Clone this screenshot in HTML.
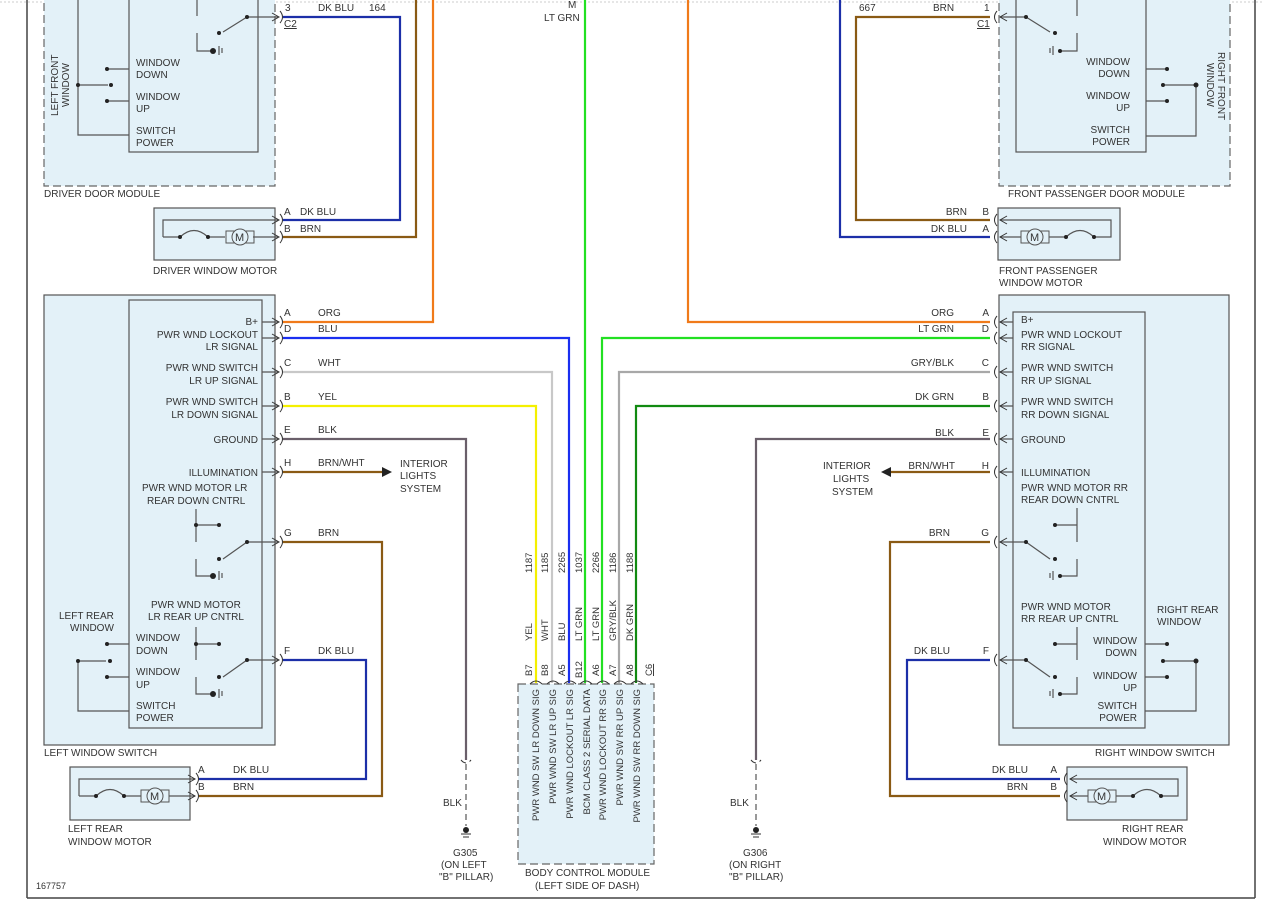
<!DOCTYPE html>
<html><head><meta charset="utf-8"><style>
html,body{margin:0;padding:0;background:#fff}
svg{display:block;font-family:"Liberation Sans",sans-serif;font-size:10px;fill:#333}
.box{fill:#e3f1f8;stroke:#555;stroke-width:1.2}
.dash{fill:#e3f1f8;stroke:#666;stroke-width:1.2;stroke-dasharray:8,4}
.in{fill:none;stroke:#555;stroke-width:1.2}
.w{fill:none;stroke-width:2.2}
.c{fill:none;stroke:#333;stroke-width:1}
</style></head><body>
<svg width="1264" height="907" viewBox="0 0 1264 907">
<rect width="1264" height="907" fill="#fff"/>
<line x1="0" y1="2" x2="1264" y2="2" stroke="#ccc" stroke-dasharray="2,2"/>
<line x1="27" y1="0" x2="27" y2="898" stroke="#444" stroke-width="1.5"/>
<line x1="1255" y1="0" x2="1255" y2="898" stroke="#444" stroke-width="1.5"/>
<line x1="27" y1="898" x2="1255" y2="898" stroke="#444" stroke-width="1.5"/>

<!-- Driver door module -->
<rect class="dash" x="44" y="-5" width="231" height="191"/>
<rect class="box" x="129" y="-5" width="129" height="157"/>
<text x="44" y="197">DRIVER DOOR MODULE</text>
<text transform="translate(58,116) rotate(-90)">LEFT FRONT</text>
<text transform="translate(69,107) rotate(-90)">WINDOW</text>
<path class="in" d="M78,0 V135 H129 M107,69 H129 M107,101 H129 M78,85 H108"/>
<circle cx="107" cy="69" r="2" fill="#222"/><circle cx="107" cy="101" r="2" fill="#222"/><circle cx="111" cy="85" r="2" fill="#222"/><circle cx="78" cy="85" r="2" fill="#222"/>
<text x="136" y="66">WINDOW</text><text x="136" y="78">DOWN</text>
<text x="136" y="100">WINDOW</text><text x="136" y="112">UP</text>
<text x="136" y="134">SWITCH</text><text x="136" y="146">POWER</text>
<path class="in" d="M197,0 V16 M247,17 H278 M247,17 L223,32 M197,33 V51 H212 M219,46 V55 M222,48 V53"/>
<circle cx="247" cy="17" r="2" fill="#222"/><circle cx="219" cy="33" r="2" fill="#222"/><circle cx="213" cy="51" r="3" fill="#222"/>
<text x="285" y="11">3</text><text x="284" y="27" text-decoration="underline">C2</text>
<text x="318" y="11">DK BLU</text><text x="369" y="11">164</text>

<!-- Driver motor -->
<rect class="box" x="154" y="208" width="121" height="52"/>
<path class="in" d="M163,237 V220 H278 M163,237 H180 M208,237 H225 M253,237 H278"/>
<path class="in" d="M180,237 Q194,224 208,237"/>
<circle cx="180" cy="237" r="2" fill="#222"/><circle cx="208" cy="237" r="2" fill="#222"/>
<rect x="226" y="231" width="28" height="12" fill="none" stroke="#555"/>
<circle cx="240" cy="237" r="8" fill="#e3f1f8" stroke="#555"/><text x="235" y="241" font-size="11">M</text>
<text x="153" y="274">DRIVER WINDOW MOTOR</text>
<text x="284" y="215">A</text><text x="300" y="215">DK BLU</text>
<text x="284" y="232">B</text><text x="300" y="232">BRN</text>

<!-- top wires left -->
<path class="w" stroke="#1c2fa8" d="M283,17 H400 V220 H283"/>
<path class="w" stroke="#8a5a14" d="M416,0 V237 H283"/>
<path class="w" stroke="#f07a1a" d="M433,0 V322 H283"/>
<path class="w" stroke="#22e022" d="M585,0 V683"/>
<text x="568" y="8">M</text><text x="544" y="21">LT GRN</text>

<!-- Left window switch -->
<rect class="box" x="44" y="295" width="231" height="450"/>
<rect class="box" x="129" y="300" width="133" height="428"/>
<text x="44" y="756">LEFT WINDOW SWITCH</text>
<g text-anchor="end">
<text x="258" y="325">B+</text>
<text x="258" y="338">PWR WND LOCKOUT</text><text x="258" y="350">LR SIGNAL</text>
<text x="258" y="371">PWR WND SWITCH</text><text x="258" y="384">LR UP SIGNAL</text>
<text x="258" y="405">PWR WND SWITCH</text><text x="258" y="418">LR DOWN SIGNAL</text>
<text x="258" y="443">GROUND</text>
<text x="258" y="476">ILLUMINATION</text>
</g>
<text x="142" y="491">PWR WND MOTOR LR</text><text x="147" y="504">REAR DOWN CNTRL</text>
<text x="151" y="608">PWR WND MOTOR</text><text x="148" y="620">LR REAR UP CNTRL</text>
<path class="in" d="M262,322 H278 M262,338 H278 M262,372 H278 M262,406 H278 M262,439 H278 M262,472 H278"/>
<path class="in" d="M196,509 V542 M196,525 H219 M247,542 H278 M247,542 L223,559 M196,559 V576 H212 M219,571 V580 M222,573 V578"/>
<circle cx="196" cy="525" r="2" fill="#222"/><circle cx="219" cy="525" r="2" fill="#222"/><circle cx="247" cy="542" r="2" fill="#222"/><circle cx="219" cy="559" r="2" fill="#222"/><circle cx="213" cy="576" r="3" fill="#222"/>
<path class="in" d="M196,627 V660 M196,644 H219 M247,660 H278 M247,660 L223,677 M196,677 V694 H212 M219,689 V698 M222,691 V696"/>
<circle cx="196" cy="644" r="2" fill="#222"/><circle cx="219" cy="644" r="2" fill="#222"/><circle cx="247" cy="660" r="2" fill="#222"/><circle cx="219" cy="677" r="2" fill="#222"/><circle cx="213" cy="694" r="3" fill="#222"/>
<text x="59" y="619">LEFT REAR</text><text x="70" y="631">WINDOW</text>
<path class="in" d="M107,644 H129 M107,677 H129 M78,661 V711 H129 M78,661 H106"/>
<circle cx="107" cy="644" r="2" fill="#222"/><circle cx="107" cy="677" r="2" fill="#222"/><circle cx="110" cy="661" r="2" fill="#222"/><circle cx="78" cy="661" r="2" fill="#222"/>
<text x="136" y="641">WINDOW</text><text x="136" y="654">DOWN</text>
<text x="136" y="675">WINDOW</text><text x="136" y="688">UP</text>
<text x="136" y="709">SWITCH</text><text x="136" y="721">POWER</text>

<text x="284" y="316">A</text><text x="318" y="316">ORG</text>
<text x="284" y="332">D</text><text x="318" y="332">BLU</text>
<text x="284" y="366">C</text><text x="318" y="366">WHT</text>
<text x="284" y="400">B</text><text x="318" y="400">YEL</text>
<text x="284" y="433">E</text><text x="318" y="433">BLK</text>
<text x="284" y="466">H</text><text x="318" y="466">BRN/WHT</text>
<text x="284" y="536">G</text><text x="318" y="536">BRN</text>
<text x="284" y="654">F</text><text x="318" y="654">DK BLU</text>

<path class="w" stroke="#1a2ff0" d="M283,338 H569 V683"/>
<path class="w" stroke="#c8c8c8" d="M283,372 H552 V683"/>
<path class="w" stroke="#f4f000" d="M283,406 H536 V683"/>
<path class="w" stroke="#6a5f6a" d="M283,439 H466 V760"/>
<path class="w" stroke="#8a5a14" d="M283,472 H383"/>
<path d="M382,467 L392,472 L382,477Z" fill="#222"/>
<text x="400" y="467">INTERIOR</text><text x="400" y="479">LIGHTS</text><text x="400" y="492">SYSTEM</text>
<path class="w" stroke="#8a5a14" d="M283,542 H382 V796 H199"/>
<path class="w" stroke="#1c2fa8" d="M283,660 H366 V779 H199"/>
<path fill="none" stroke="#333" d="M461,760 Q466,766 471,760 M466,764 V826" stroke-dasharray="6,4"/>
<circle cx="466" cy="830" r="3" fill="#222"/><path stroke="#333" d="M461,834 H471 M463,837 H469"/>
<text x="443" y="806">BLK</text>
<text x="453" y="856">G305</text><text x="441" y="868">(ON LEFT</text><text x="439" y="880">"B" PILLAR)</text>

<rect class="box" x="70" y="767" width="120" height="53"/>
<path class="in" d="M79,796 V779 H195 M79,796 H96 M124,796 H141 M169,796 H195"/>
<path class="in" d="M96,796 Q110,783 124,796"/>
<circle cx="96" cy="796" r="2" fill="#222"/><circle cx="124" cy="796" r="2" fill="#222"/>
<rect x="141" y="790" width="28" height="12" fill="none" stroke="#555"/>
<circle cx="155" cy="796" r="8" fill="#e3f1f8" stroke="#555"/><text x="150" y="800" font-size="11">M</text>
<text x="68" y="832">LEFT REAR</text><text x="68" y="845">WINDOW MOTOR</text>
<text x="198" y="773">A</text><text x="233" y="773">DK BLU</text>
<text x="198" y="790">B</text><text x="233" y="790">BRN</text>

<g class="c">
<path d="M272,13 L279,17 L272,21 M280,11 Q285,17 280,23"/>
<path d="M272,216 L279,220 L272,224 M280,214 Q285,220 280,226"/>
<path d="M272,233 L279,237 L272,241 M280,231 Q285,237 280,243"/>
<path d="M272,318 L279,322 L272,326 M280,316 Q285,322 280,328"/>
<path d="M272,334 L279,338 L272,342 M280,332 Q285,338 280,344"/>
<path d="M272,368 L279,372 L272,376 M280,366 Q285,372 280,378"/>
<path d="M272,402 L279,406 L272,410 M280,400 Q285,406 280,412"/>
<path d="M272,435 L279,439 L272,443 M280,433 Q285,439 280,445"/>
<path d="M272,468 L279,472 L272,476 M280,466 Q285,472 280,478"/>
<path d="M272,538 L279,542 L272,546 M280,536 Q285,542 280,548"/>
<path d="M272,656 L279,660 L272,664 M280,654 Q285,660 280,666"/>
<path d="M188,775 L195,779 L188,783 M196,773 Q201,779 196,785"/>
<path d="M188,792 L195,796 L188,800 M196,790 Q201,796 196,802"/>
</g>

<rect class="dash" x="518" y="684" width="136" height="180"/>
<path class="w" stroke="#22e022" d="M602,683 V338 H990"/>
<path class="w" stroke="#a8a8a8" d="M619,683 V372 H990"/>
<path class="w" stroke="#118a11" d="M636,683 V406 H990"/>
<g class="c">
<path d="M530,684 Q536,678 542,684 M547,684 Q553,678 559,684 M564,684 Q570,678 576,684 M580,684 Q586,678 592,684 M597,684 Q603,678 609,684 M614,684 Q620,678 626,684 M631,684 Q637,678 643,684"/>
</g>
<g font-size="9.5">
<text transform="translate(532,573) rotate(-90)">1187</text>
<text transform="translate(548,573) rotate(-90)">1185</text>
<text transform="translate(565,573) rotate(-90)">2265</text>
<text transform="translate(582,573) rotate(-90)">1037</text>
<text transform="translate(599,573) rotate(-90)">2266</text>
<text transform="translate(616,573) rotate(-90)">1186</text>
<text transform="translate(633,573) rotate(-90)">1188</text>
<text transform="translate(532,641) rotate(-90)">YEL</text>
<text transform="translate(548,641) rotate(-90)">WHT</text>
<text transform="translate(565,641) rotate(-90)">BLU</text>
<text transform="translate(582,641) rotate(-90)">LT GRN</text>
<text transform="translate(599,641) rotate(-90)">LT GRN</text>
<text transform="translate(616,641) rotate(-90)">GRY/BLK</text>
<text transform="translate(633,641) rotate(-90)">DK GRN</text>
<text transform="translate(532,676) rotate(-90)">B7</text>
<text transform="translate(548,676) rotate(-90)">B8</text>
<text transform="translate(565,676) rotate(-90)">A5</text>
<text transform="translate(582,678) rotate(-90)">B12</text>
<text transform="translate(599,676) rotate(-90)">A6</text>
<text transform="translate(616,676) rotate(-90)">A7</text>
<text transform="translate(633,676) rotate(-90)">A8</text>
<text transform="translate(652,676) rotate(-90)" text-decoration="underline">C6</text>
</g>
<g text-anchor="end" font-size="9.5">
<text transform="translate(539,689) rotate(-90)">PWR WND SW LR DOWN SIG</text>
<text transform="translate(556,689) rotate(-90)">PWR WND SW LR UP SIG</text>
<text transform="translate(573,689) rotate(-90)">PWR WND LOCKOUT LR SIG</text>
<text transform="translate(590,689) rotate(-90)">BCM CLASS 2 SERIAL DATA</text>
<text transform="translate(606,689) rotate(-90)">PWR WND LOCKOUT RR SIG</text>
<text transform="translate(623,689) rotate(-90)">PWR WND SW RR UP SIG</text>
<text transform="translate(640,689) rotate(-90)">PWR WND SW RR DOWN SIG</text>
</g>
<text x="525" y="876">BODY CONTROL MODULE</text><text x="535" y="889">(LEFT SIDE OF DASH)</text>

<path class="w" stroke="#f07a1a" d="M688,0 V322 H990"/>
<path class="w" stroke="#8a5a14" d="M990,17 H856 V220 H990"/>
<path class="w" stroke="#1c2fa8" d="M840,0 V237 H990"/>
<text x="859" y="11">667</text><text x="933" y="11">BRN</text><text x="984" y="11">1</text>
<text x="977" y="27" text-decoration="underline">C1</text>

<rect class="dash" x="999" y="-5" width="231" height="191"/>
<rect class="box" x="1016" y="-5" width="130" height="157"/>
<text x="1008" y="197">FRONT PASSENGER DOOR MODULE</text>
<text transform="translate(1218,52) rotate(90)">RIGHT FRONT</text>
<text transform="translate(1207,63) rotate(90)">WINDOW</text>
<path class="in" d="M1077,0 V16 M1026,17 H1000 M1026,17 L1050,32 M1077,33 V51 H1060 M1053,46 V55 M1050,48 V53"/>
<circle cx="1026" cy="17" r="2" fill="#222"/><circle cx="1055" cy="33" r="2" fill="#222"/><circle cx="1060" cy="51" r="2" fill="#222"/>
<g text-anchor="end">
<text x="1130" y="65">WINDOW</text><text x="1130" y="77">DOWN</text>
<text x="1130" y="99">WINDOW</text><text x="1130" y="111">UP</text>
<text x="1130" y="133">SWITCH</text><text x="1130" y="145">POWER</text>
</g>
<path class="in" d="M1146,69 H1167 M1146,101 H1167 M1146,136 H1196 V85 H1165"/>
<circle cx="1167" cy="69" r="2" fill="#222"/><circle cx="1167" cy="101" r="2" fill="#222"/><circle cx="1163" cy="85" r="2" fill="#222"/><circle cx="1196" cy="85" r="2.5" fill="#222"/>

<rect class="box" x="998" y="208" width="122" height="52"/>
<path class="in" d="M1000,220 H1111 V237 H1094 M1066,237 H1049 M1021,237 H1000"/>
<path class="in" d="M1066,237 Q1080,224 1094,237"/>
<circle cx="1066" cy="237" r="2" fill="#222"/><circle cx="1094" cy="237" r="2" fill="#222"/>
<rect x="1021" y="231" width="28" height="12" fill="none" stroke="#555"/>
<circle cx="1035" cy="237" r="8" fill="#e3f1f8" stroke="#555"/><text x="1030" y="241" font-size="11">M</text>
<text x="999" y="274">FRONT PASSENGER</text><text x="999" y="286">WINDOW MOTOR</text>
<g text-anchor="end">
<text x="967" y="215">BRN</text><text x="989" y="215">B</text>
<text x="967" y="232">DK BLU</text><text x="989" y="232">A</text>
</g>

<rect class="box" x="999" y="295" width="230" height="450"/>
<rect class="box" x="1013" y="312" width="132" height="416"/>
<text x="1095" y="756">RIGHT WINDOW SWITCH</text>
<text x="1021" y="323">B+</text>
<text x="1021" y="338">PWR WND LOCKOUT</text><text x="1021" y="350">RR SIGNAL</text>
<text x="1021" y="371">PWR WND SWITCH</text><text x="1021" y="384">RR UP SIGNAL</text>
<text x="1021" y="405">PWR WND SWITCH</text><text x="1021" y="418">RR DOWN SIGNAL</text>
<text x="1021" y="443">GROUND</text>
<text x="1021" y="476">ILLUMINATION</text>
<text x="1021" y="491">PWR WND MOTOR RR</text><text x="1021" y="503">REAR DOWN CNTRL</text>
<text x="1021" y="610">PWR WND MOTOR</text><text x="1021" y="622">RR REAR UP CNTRL</text>
<path class="in" d="M1000,322 H1013 M1000,338 H1013 M1000,372 H1013 M1000,406 H1013 M1000,439 H1013 M1000,472 H1013"/>
<path class="in" d="M1077,508 V542 M1055,525 H1077 M1000,542 H1026 M1026,542 L1050,559 M1077,559 V576 H1060 M1053,571 V580 M1050,573 V578"/>
<circle cx="1055" cy="525" r="2" fill="#222"/><circle cx="1026" cy="542" r="2" fill="#222"/><circle cx="1055" cy="559" r="2" fill="#222"/><circle cx="1060" cy="576" r="2" fill="#222"/>
<path class="in" d="M1077,627 V660 M1055,644 H1077 M1000,660 H1026 M1026,660 L1050,677 M1077,677 V694 H1060 M1053,689 V698 M1050,691 V696"/>
<circle cx="1055" cy="644" r="2" fill="#222"/><circle cx="1026" cy="660" r="2" fill="#222"/><circle cx="1055" cy="677" r="2" fill="#222"/><circle cx="1060" cy="694" r="2" fill="#222"/>
<g text-anchor="end">
<text x="1137" y="644">WINDOW</text><text x="1137" y="656">DOWN</text>
<text x="1137" y="679">WINDOW</text><text x="1137" y="691">UP</text>
<text x="1137" y="709">SWITCH</text><text x="1137" y="721">POWER</text>
</g>
<text x="1157" y="613">RIGHT REAR</text><text x="1157" y="625">WINDOW</text>
<path class="in" d="M1145,644 H1167 M1145,677 H1167 M1145,711 H1196 V661 H1165"/>
<circle cx="1167" cy="644" r="2" fill="#222"/><circle cx="1167" cy="677" r="2" fill="#222"/><circle cx="1163" cy="661" r="2" fill="#222"/><circle cx="1196" cy="661" r="2.5" fill="#222"/>

<g text-anchor="end">
<text x="954" y="316">ORG</text><text x="989" y="316">A</text>
<text x="954" y="332">LT GRN</text><text x="989" y="332">D</text>
<text x="954" y="366">GRY/BLK</text><text x="989" y="366">C</text>
<text x="954" y="400">DK GRN</text><text x="989" y="400">B</text>
<text x="954" y="436">BLK</text><text x="989" y="436">E</text>
<text x="955" y="469">BRN/WHT</text><text x="989" y="469">H</text>
<text x="950" y="536">BRN</text><text x="989" y="536">G</text>
<text x="950" y="654">DK BLU</text><text x="989" y="654">F</text>
<text x="1028" y="773">DK BLU</text><text x="1057" y="773">A</text>
<text x="1028" y="790">BRN</text><text x="1057" y="790">B</text>
</g>
<path class="w" stroke="#6a5f6a" d="M990,439 H756 V760"/>
<path class="w" stroke="#8a5a14" d="M990,472 H890"/>
<path d="M891,467 L881,472 L891,477Z" fill="#222"/>
<text x="823" y="469">INTERIOR</text><text x="833" y="482">LIGHTS</text><text x="832" y="495">SYSTEM</text>
<path class="w" stroke="#8a5a14" d="M990,542 H890 V796 H1060"/>
<path class="w" stroke="#1c2fa8" d="M990,660 H907 V779 H1060"/>
<path fill="none" stroke="#333" d="M751,760 Q756,766 761,760 M756,764 V826" stroke-dasharray="6,4"/>
<circle cx="756" cy="830" r="3" fill="#222"/><path stroke="#333" d="M751,834 H761 M753,837 H759"/>
<text x="730" y="806">BLK</text>
<text x="743" y="856">G306</text><text x="729" y="868">(ON RIGHT</text><text x="729" y="880">"B" PILLAR)</text>

<rect class="box" x="1067" y="767" width="120" height="53"/>
<path class="in" d="M1070,779 H1178 V796 H1161 M1133,796 H1116 M1088,796 H1070"/>
<path class="in" d="M1133,796 Q1147,783 1161,796"/>
<circle cx="1133" cy="796" r="2" fill="#222"/><circle cx="1161" cy="796" r="2" fill="#222"/>
<rect x="1088" y="790" width="28" height="12" fill="none" stroke="#555"/>
<circle cx="1102" cy="796" r="8" fill="#e3f1f8" stroke="#555"/><text x="1097" y="800" font-size="11">M</text>
<text x="1122" y="832">RIGHT REAR</text><text x="1103" y="845">WINDOW MOTOR</text>

<g class="c">
<path d="M1007,13 L1000,17 L1007,21 M997,11 Q992,17 997,23"/>
<path d="M1007,216 L1000,220 L1007,224 M997,214 Q992,220 997,226"/>
<path d="M1007,233 L1000,237 L1007,241 M997,231 Q992,237 997,243"/>
<path d="M1007,318 L1000,322 L1007,326 M997,316 Q992,322 997,328"/>
<path d="M1007,334 L1000,338 L1007,342 M997,332 Q992,338 997,344"/>
<path d="M1007,368 L1000,372 L1007,376 M997,366 Q992,372 997,378"/>
<path d="M1007,402 L1000,406 L1007,410 M997,400 Q992,406 997,412"/>
<path d="M1007,435 L1000,439 L1007,443 M997,433 Q992,439 997,445"/>
<path d="M1007,468 L1000,472 L1007,476 M997,466 Q992,472 997,478"/>
<path d="M1007,538 L1000,542 L1007,546 M997,536 Q992,542 997,548"/>
<path d="M1007,656 L1000,660 L1007,664 M997,654 Q992,660 997,666"/>
<path d="M1077,775 L1070,779 L1077,783 M1067,773 Q1062,779 1067,785"/>
<path d="M1077,792 L1070,796 L1077,800 M1067,790 Q1062,796 1067,802"/>
</g>
<text x="36" y="889" font-size="9">167757</text>
</svg>
</body></html>
